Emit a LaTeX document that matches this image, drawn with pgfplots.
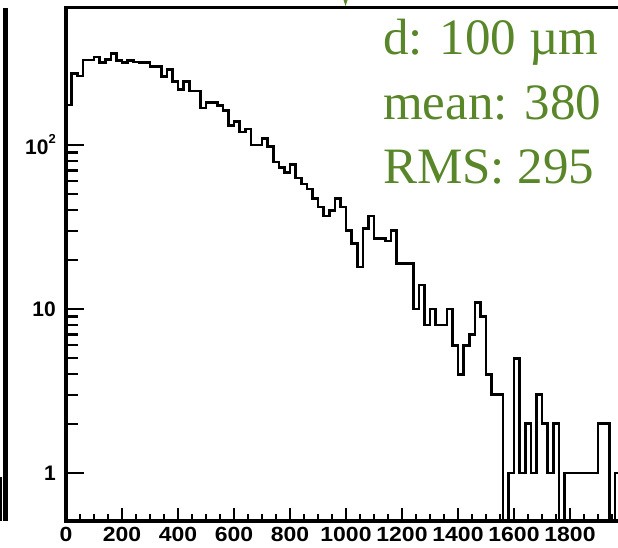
\documentclass[border=0pt]{standalone}
\usepackage{fontspec}
\usepackage{graphicx}
\usepackage{pgfplots}
\usepackage{pgfplotstable}
\pgfplotsset{compat=1.18}
\newfontfamily\lsans{Liberation Sans}
\newfontfamily\lserif{Liberation Serif}
\definecolor{rootgreen}{RGB}{88,134,40}
\newcommand\xl[1]{\scalebox{1.12}[1]{#1}}
% bin left edge, content (zero bins written as 0.1, below the axis)
\pgfplotstableread{
x y
0 175
20 273
40 263
60 330
80 330
100 345
120 318
140 333
160 362
180 327
200 318
220 327
240 320
260 318
280 318
300 302
320 300
340 261
360 288
380 243
400 218
420 243
440 214
460 214
480 168
500 181
520 181
540 174
560 162
580 131
600 139
620 120
640 125
660 100
680 100
700 110
720 98
740 79
760 73
780 68
800 76
820 63
840 58
860 54
880 47
900 42
920 37
940 40
960 47
980 42
1000 30
1020 25
1040 18
1060 31
1080 37
1100 27
1120 27
1140 26
1160 30
1180 19
1200 19
1220 19
1240 10
1260 14
1280 8
1300 10
1320 8
1340 8
1360 10
1380 6
1400 4
1420 6
1440 7
1460 11
1480 9
1500 4
1520 3
1540 3
1560 0.1
1580 1
1600 5
1620 1
1640 2
1660 1
1680 3
1700 2
1720 1
1740 2
1760 0.1
1780 1
1800 1
1820 1
1840 1
1860 1
1880 1
1900 2
1920 2
1940 0.1
1960 1
1980 1
}\histdata
\begin{document}
\begin{tikzpicture}[x=1pt,y=1pt]
\useasboundingbox (0,0) rectangle (618,547);
% edge of the neighbouring panel
\fill[black] (2.5,26) rectangle (7.5,539);
\fill[black] (0,26) rectangle (1.8,70);
\fill[rootgreen] (343.5,547) -- (347.5,547) -- (345.5,541) -- cycle;
\begin{axis}[
  at={(66pt,26pt)}, anchor=south west,
  scale only axis, width=560pt, height=513.3pt,
  xmin=0, xmax=2000,
  ymode=log, ymin=0.5096, ymax=687.6,
  axis line style={line width=3.2pt, black},
  tick align=inside,
  xtick pos=bottom, ytick pos=left,
  xtick={0,200,...,1800},
  xticklabels={\xl{0},\xl{200},\xl{400},\xl{600},\xl{800},\xl{1000},\xl{1200},\xl{1400},\xl{1600},\xl{1800}},
  minor xtick={50,100,150,250,300,350,450,500,550,650,700,750,850,900,950,1050,1100,1150,1250,1300,1350,1450,1500,1550,1650,1700,1750,1850,1900,1950},
  ytick={1,10,100},
  yticklabels={1,10,{10\raisebox{11pt}{\fontsize{13}{13}\selectfont 2}}},
  xtick style={line width=2.2pt, black, /pgfplots/major tick length=13pt, /pgfplots/minor tick length=7pt},
  ytick style={line width=2.2pt, black, /pgfplots/major tick length=18pt, /pgfplots/minor tick length=12pt},
  xticklabel style={font=\lsans\bfseries\fontsize{20.5}{20.5}\selectfont, inner ysep=0pt, yshift=-6pt},
  yticklabel style={font=\lsans\bfseries\fontsize{21}{21}\selectfont, inner xsep=0pt, xshift=-10pt},
]
\addplot[const plot, black, line width=2.6pt, line join=miter] table[x=x,y=y] {\histdata};
\end{axis}
\node[anchor=base west, text=rootgreen, font=\lserif\fontsize{51}{51}\selectfont, inner sep=0pt] at (383,492.7) {d: 100 µm};
\node[anchor=base west, text=rootgreen, font=\lserif\fontsize{51}{51}\selectfont, inner sep=0pt] at (383,427) {mean: 380};
\node[anchor=base west, text=rootgreen, font=\lserif\fontsize{51}{51}\selectfont, inner sep=0pt] at (383,363.7) {RMS: 295};
\end{tikzpicture}
\end{document}
